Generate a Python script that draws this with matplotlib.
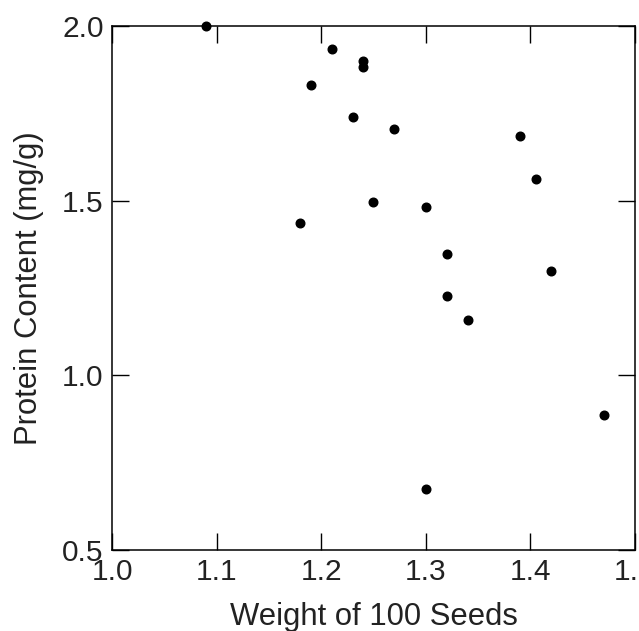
import matplotlib
matplotlib.use("Agg")
import matplotlib.pyplot as plt

plt.rcParams['font.family'] = ['Liberation Sans', 'DejaVu Sans']

seed_weight = [1.09, 1.19, 1.18, 1.21, 1.24, 1.24, 1.23, 1.27, 1.39, 1.405,
               1.25, 1.30, 1.32, 1.42, 1.32, 1.34, 1.47, 1.30]
protein = [2.00, 1.83, 1.435, 1.934, 1.900, 1.883, 1.740, 1.705, 1.686, 1.561,
           1.496, 1.483, 1.346, 1.298, 1.227, 1.158, 0.886, 0.674]

xticks = [1.0, 1.1, 1.2, 1.3, 1.4, 1.5]
yticks = [0.5, 1.0, 1.5, 2.0]

fig = plt.figure(figsize=(6.39, 6.31), dpi=100)
ax = fig.add_axes([0.1753, 0.1284, 0.8184, 0.8304])

ax.plot(seed_weight, protein, 'o', color='black', markersize=6.2, clip_on=False)

ax.set_xlim(1.0, 1.5)
ax.set_ylim(0.5, 2.0)
ax.set_xticks(xticks)
ax.set_xticklabels(['%.1f' % t for t in xticks])
ax.set_yticks(yticks)
ax.set_yticklabels(['%.1f' % t for t in yticks])

ax.tick_params(direction='in', length=12, width=1, top=True, right=True,
               labelsize=21.5, labelcolor='#222222', pad=6)
for s in ax.spines.values():
    s.set_linewidth(1.1)

ax.set_xlabel('Weight of 100 Seeds', fontsize=22.3, color='#222222', labelpad=11)
ax.set_ylabel('Protein Content (mg/g)', fontsize=22.3, color='#222222', labelpad=13)

fig.savefig('out.png', dpi=100)
